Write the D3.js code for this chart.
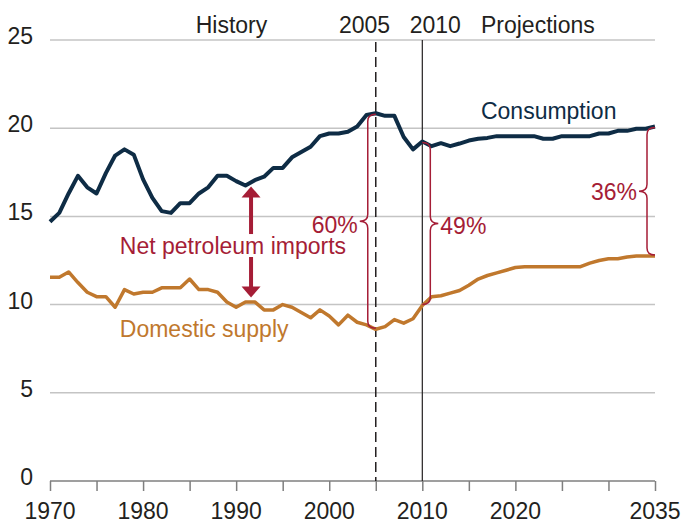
<!DOCTYPE html>
<html>
<head>
<meta charset="utf-8">
<script src="https://cdn.jsdelivr.net/npm/d3@7"></script>
<style>
  body { margin: 0; background: #fff; }
  svg { display: block; font-family: "Liberation Sans", Arial, sans-serif; }
  .grid line { stroke: #c4c4c4; stroke-width: 1.5; }
  .axis--x path, .axis--x line { stroke: #7f7f7f; stroke-width: 1.5; }
  .axis text { font-size: 23px; fill: #231f20; }
  .brace { fill: none; stroke: #a51d36; stroke-width: 1.5; }
</style>
</head>
<body>
<svg width="681" height="523"></svg>
<script>
var years = d3.range(1970, 2036);

var consumption = [
  14.7, 15.2, 16.3, 17.3, 16.65, 16.3, 17.45, 18.45, 18.8, 18.5,
  17.1, 16.05, 15.3, 15.2, 15.75, 15.75, 16.3, 16.65, 17.3, 17.3,
  17.0, 16.75, 17.05, 17.25, 17.75, 17.75, 18.35, 18.65, 18.95, 19.55,
  19.7, 19.7, 19.8, 20.1, 20.75, 20.85, 20.7, 20.7, 19.5, 18.8,
  19.25, 18.98, 19.15, 18.98, 19.13, 19.3, 19.4, 19.45, 19.55, 19.55,
  19.55, 19.55, 19.55, 19.4, 19.4, 19.55, 19.55, 19.55, 19.55, 19.7,
  19.7, 19.85, 19.85, 19.97, 19.97, 20.1
];

var domestic = [
  11.55, 11.55, 11.85, 11.25, 10.7, 10.45, 10.45, 9.85, 10.85, 10.6,
  10.7, 10.7, 10.95, 10.95, 10.95, 11.45, 10.85, 10.85, 10.7, 10.15,
  9.85, 10.15, 10.15, 9.7, 9.7, 10.0, 9.85, 9.55, 9.25, 9.7,
  9.35, 8.85, 9.4, 9.0, 8.85, 8.6, 8.75, 9.15, 8.95, 9.2,
  9.95, 10.45, 10.5, 10.65, 10.8, 11.1, 11.45, 11.65, 11.8, 11.95,
  12.1, 12.15, 12.15, 12.15, 12.15, 12.15, 12.15, 12.15, 12.35, 12.5,
  12.6, 12.6, 12.7, 12.75, 12.75, 12.75
];

var yTicks = [0, 5, 10, 15, 20, 25];
var xTicks = d3.range(1970, 2036, 5);
var xLabels = [1970, 1980, 1990, 2000, 2010, 2020, 2035];

// import shares marked with braces
var braceYears = [2005, 2010, 2035];
var braceLabels = ["60%", "49%", "36%"];

var svg = d3.select("svg"),
    margin = {top: 40, right: 26, bottom: 42, left: 50},
    width = +svg.attr("width") - margin.left - margin.right,
    height = +svg.attr("height") - margin.top - margin.bottom,
    g = svg.append("g").attr("transform", "translate(" + margin.left + "," + margin.top + ")");

var x = d3.scaleLinear().domain([1970, 2035]).range([0, width]);
var y = d3.scaleLinear().domain([0, 25]).range([height, 0]);

var cons = years.map(function(yr, i) { return {year: yr, value: consumption[i]}; });
var dom = years.map(function(yr, i) { return {year: yr, value: domestic[i]}; });
function valueAt(arr, yr) { return arr[years.indexOf(yr)]; }

// gridlines
g.append("g")
    .attr("class", "grid")
  .selectAll("line")
  .data(yTicks.filter(function(d) { return d > 0; }))
  .enter().append("line")
    .attr("x1", 0).attr("x2", width)
    .attr("y1", function(d) { return y(d); })
    .attr("y2", function(d) { return y(d); });

// y labels
g.append("g")
    .attr("class", "axis axis--y")
  .selectAll("text")
  .data(yTicks)
  .enter().append("text")
    .attr("x", -17)
    .attr("y", function(d) { return y(d) + 4; })
    .attr("text-anchor", "end")
    .text(function(d) { return d; });

// x axis
var xAxis = g.append("g")
    .attr("class", "axis axis--x")
    .attr("transform", "translate(0," + height + ")")
    .call(d3.axisBottom(x).tickValues(xTicks).tickSize(10).tickSizeOuter(0).tickFormat(""));

xAxis.select(".domain").attr("d", "M0,0H" + width);

g.append("g")
    .attr("class", "axis")
  .selectAll("text")
  .data(xLabels)
  .enter().append("text")
    .attr("x", function(d) { return x(d); })
    .attr("y", height + 38)
    .attr("text-anchor", "middle")
    .text(function(d) { return d; });

// history / projection dividers
g.append("line")
    .attr("x1", x(2005)).attr("x2", x(2005))
    .attr("y1", 2).attr("y2", height)
    .attr("stroke", "#231f20")
    .attr("stroke-width", 1.5)
    .attr("stroke-dasharray", "10,5");

g.append("line")
    .attr("x1", x(2010)).attr("x2", x(2010))
    .attr("y1", 0).attr("y2", height)
    .attr("stroke", "#231f20")
    .attr("stroke-width", 1.2);

var headers = [
  {text: "History", at: 1989.5, anchor: "middle"},
  {text: "2005", at: 2003.8, anchor: "middle"},
  {text: "2010", at: 2011.4, anchor: "middle"},
  {text: "Projections", at: 2016.3, anchor: "start"}
];
g.selectAll(".header")
  .data(headers)
  .enter().append("text")
    .attr("class", "header")
    .attr("x", function(d) { return x(d.at); })
    .attr("y", -7)
    .attr("text-anchor", function(d) { return d.anchor; })
    .attr("font-size", 23)
    .attr("fill", "#231f20")
    .text(function(d) { return d.text; });

// lines
var line = d3.line()
    .x(function(d) { return x(d.year); })
    .y(function(d) { return y(d.value); });

g.append("path")
    .datum(dom)
    .attr("fill", "none")
    .attr("stroke", "#c0782d")
    .attr("stroke-width", 3.5)
    .attr("stroke-linejoin", "round")
    .attr("d", line);

g.append("path")
    .datum(cons)
    .attr("fill", "none")
    .attr("stroke", "#0e2c45")
    .attr("stroke-width", 4)
    .attr("stroke-linejoin", "round")
    .attr("d", line);

// braces
function bracePath(x0, y1, y2, dir) {
  var xs = x0 + dir * 8, xt = x0 + dir * 16, ym = (y1 + y2) / 2, r = 7;
  return "M" + x0 + "," + y1 +
    "Q" + xs + "," + y1 + " " + xs + "," + (y1 + r) +
    "L" + xs + "," + (ym - r) +
    "Q" + xs + "," + ym + " " + xt + "," + ym +
    "Q" + xs + "," + ym + " " + xs + "," + (ym + r) +
    "L" + xs + "," + (y2 - r) +
    "Q" + xs + "," + y2 + " " + x0 + "," + y2;
}

var braceDir = [-1, 1, -1];
var braceDy = [12, 11, 9];
braceYears.forEach(function(yr, i) {
  var y1 = y(valueAt(consumption, yr)) + 1,
      y2 = y(valueAt(domestic, yr)) - 1,
      dir = braceDir[i],
      x0 = x(yr);
  g.append("path")
      .attr("class", "brace")
      .attr("d", bracePath(x0, y1, y2, dir));
  g.append("text")
      .attr("x", x0 + dir * 18)
      .attr("y", (y1 + y2) / 2 + braceDy[i])
      .attr("text-anchor", dir < 0 ? "end" : "start")
      .attr("font-size", 23)
      .attr("fill", "#a51d36")
      .text(braceLabels[i]);
});

// net imports arrows
var arrowYear = 1991.6;
function arrow(fromV, toV) {
  var ax = x(arrowYear), y0 = y(fromV), y1 = y(toV), s = y1 > y0 ? 1 : -1;
  g.append("line")
      .attr("x1", ax).attr("x2", ax)
      .attr("y1", y0).attr("y2", y1 - s * 9)
      .attr("stroke", "#a51d36")
      .attr("stroke-width", 4);
  g.append("path")
      .attr("d", "M" + (ax - 9.5) + "," + (y1 - s * 11) + "L" + (ax + 9.5) + "," + (y1 - s * 11) + "L" + ax + "," + y1 + "Z")
      .attr("fill", "#a51d36");
}
arrow(14.0, 16.7);
arrow(12.7, 10.4);

// series labels
g.append("text")
    .attr("x", x(1977.5))
    .attr("y", y(13.3) + 8)
    .attr("font-size", 23)
    .attr("fill", "#a51d36")
    .text("Net petroleum imports");

g.append("text")
    .attr("x", x(1977.5))
    .attr("y", y(8.6) + 8)
    .attr("font-size", 23)
    .attr("fill", "#c0782d")
    .text("Domestic supply");

g.append("text")
    .attr("x", x(2016.3))
    .attr("y", y(21.0) + 8)
    .attr("font-size", 23)
    .attr("fill", "#0e2c45")
    .text("Consumption");
</script>
</body>
</html>
